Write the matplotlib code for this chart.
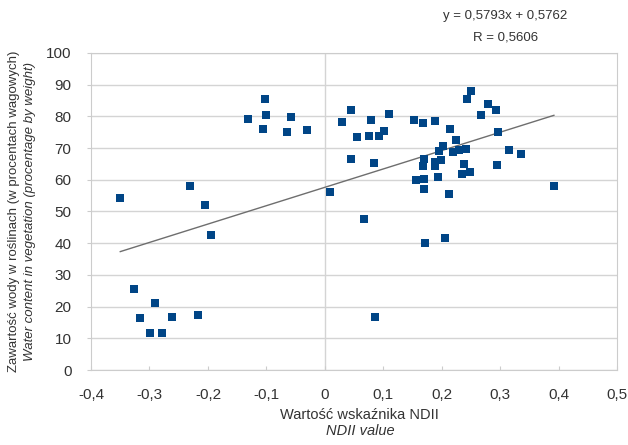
import matplotlib.pyplot as plt
import numpy as np

plt.rcParams['font.family'] = ['Liberation Sans', 'DejaVu Sans']

# NDII value vs water content (%)
ndii = [-0.350, -0.231, -0.205, -0.194, -0.103, -0.132, -0.100, -0.106, -0.058, -0.065,
        -0.030, 0.009, 0.044, 0.030, 0.079, 0.110, 0.055, 0.075, 0.092, 0.101,
        0.045, 0.085, 0.067, 0.153, 0.168, 0.189, 0.214, 0.251, 0.244, 0.280,
        0.293, 0.268, 0.297, 0.225, 0.203, 0.195, 0.219, 0.230, 0.241, 0.316,
        0.335, 0.169, 0.168, 0.188, 0.198, 0.189, 0.238, 0.295, 0.193, 0.234,
        0.248, 0.156, 0.170, 0.170, 0.212, 0.392, 0.171, 0.206, 0.086, -0.327,
        -0.291, -0.317, -0.262, -0.217, -0.299, -0.279]
water = [54.1, 58.0, 51.9, 42.5, 85.6, 79.2, 80.5, 75.9, 79.9, 75.2,
         75.7, 56.3, 82.1, 78.1, 78.7, 80.9, 73.5, 73.9, 73.7, 75.4,
         66.6, 65.4, 47.5, 78.9, 77.9, 78.5, 76.1, 87.9, 85.6, 83.9,
         81.9, 80.5, 75.2, 72.5, 70.7, 69.2, 68.9, 69.5, 69.8, 69.4,
         68.2, 66.5, 64.5, 64.2, 66.1, 65.6, 65.1, 64.6, 60.9, 61.8,
         62.5, 59.9, 60.4, 57.1, 55.6, 58.0, 40.1, 41.5, 16.6, 25.5,
         21.2, 16.4, 16.6, 17.4, 11.8, 11.7]

# trend line from the equation label (fraction -> percent)
slope = 0.5793
intercept = 0.5762

fig = plt.figure(figsize=(6.28, 4.45), dpi=100)
ax = fig.add_axes([0.145, 0.1685, 0.8375, 0.7125])

ax.set_axisbelow(True)
ax.grid(which='major', axis='y', color='#d4d4d4', linewidth=1)
ax.axvline(0, color='#d4d4d4', linewidth=1, zorder=0)

ax.scatter(ndii, water, marker='s', s=36, color='#004586', zorder=3, linewidths=0)

xs = np.array([min(ndii), max(ndii)])
ax.plot(xs, (slope * xs + intercept) * 100, color='#6e6e6e', linewidth=1, zorder=2)

ax.set_xlim(-0.4, 0.5)
ax.set_ylim(0, 100)
ax.set_xticks(np.arange(-0.4, 0.51, 0.1))
ax.set_xticklabels(['-0,4', '-0,3', '-0,2', '-0,1', '0', '0,1', '0,2', '0,3', '0,4', '0,5'])
ax.set_yticks(np.arange(0, 101, 10))

for s in ax.spines.values():
    s.set_color('#cccccc')
ax.tick_params(colors='#cccccc', labelcolor='#333333', labelsize=11, length=3, direction='in')
ax.tick_params(axis='x', pad=13)
ax.tick_params(axis='y', pad=11, direction='out')

fig.text(0.573, 0.058, 'Wartość wskaźnika NDII', ha='center', fontsize=10.5, color='#333333')
fig.text(0.573, 0.022, 'NDII value', ha='center', fontsize=10.5, color='#333333', style='italic')

fig.text(0.022, 0.525, 'Zawartość wody w roślinach (w procentach wagowych)', rotation=90,
         ha='center', va='center', fontsize=9.5, color='#333333')
fig.text(0.047, 0.525, 'Water content in vegetation (procentage by weight)', rotation=90,
         ha='center', va='center', fontsize=9.5, color='#333333', style='italic')

fig.text(0.805, 0.964, 'y = 0,5793x + 0,5762', ha='center', va='center', fontsize=9.5, color='#333333')
fig.text(0.805, 0.915, 'R = 0,5606', ha='center', va='center', fontsize=9.5, color='#333333')

fig.savefig('out.png', dpi=100)
